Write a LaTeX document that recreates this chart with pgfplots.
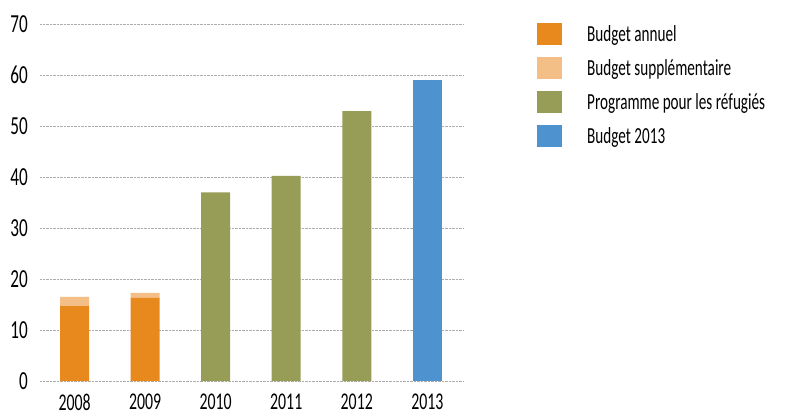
\documentclass[border=0pt]{standalone}
\usepackage{pgfplots}
\pgfplotsset{compat=1.18}
\usepackage{fontspec}
\setmainfont[FakeStretch=0.66]{Carlito}
\definecolor{cA}{RGB}{232,137,30}
\definecolor{cB}{RGB}{244,190,135}
\definecolor{cC}{RGB}{151,157,86}
\definecolor{cD}{RGB}{79,146,208}
\pgfplotsset{sq/.style={legend image code/.code={\fill[##1,draw=none] (0pt,-11pt) rectangle (25pt,11pt);}}}
\begin{document}
\begin{tikzpicture}
\begin{axis}[
  at={(40pt,35pt)}, anchor=south west,
  scale only axis, width=424pt, height=357pt,
  xmin=-0.49, xmax=5.52, ymin=0, ymax=70,
  ybar stacked, bar width=29pt,
  xtick={0,...,5}, xticklabels={2008,2009,2010,2011,2012,2013},
  ytick={0,10,...,70},
  axis line style={draw=none}, major tick length=0pt,
  ymajorgrids, grid style={gray!65, line width=1pt, dash pattern=on 0.8pt off 0.6pt},
  /pgf/number format/assume math mode=true,
  ticklabel style={font=\fontsize{26}{26}\selectfont},
  yticklabel style={anchor=east, inner sep=0pt, xshift=-12pt},
  xticklabel style={anchor=north, inner sep=0pt, text depth=0pt, yshift=-13pt, font=\fontsize{24}{24}\selectfont},
  legend style={at={(1.1722,1.0028)}, anchor=north west, draw=none, fill=none, inner sep=0pt, row sep=12pt, column sep=25pt, font=\fontsize{23}{23}\selectfont, nodes={inner sep=0pt}},
  legend cell align=left,
  clip=false,
]
\addplot[fill=cA, draw=none, sq] coordinates {(0,14.7) (1,16.3) (2,0) (3,0) (4,0) (5,0)};
\addplot[fill=cB, draw=none, sq] coordinates {(0,1.8) (1,1.0) (2,0) (3,0) (4,0) (5,0)};
\addplot[fill=cC, draw=none, sq] coordinates {(0,0) (1,0) (2,37.0) (3,40.2) (4,52.9) (5,0)};
\addplot[fill=cD, draw=none, sq] coordinates {(0,0) (1,0) (2,0) (3,0) (4,0) (5,59.0)};
\legend{Budget annuel, Budget supplémentaire, Programme pour les réfugiés, Budget 2013}
\end{axis}
\pgfresetboundingbox
\useasboundingbox (0,0) rectangle (790pt,416pt);
\end{tikzpicture}
\end{document}
